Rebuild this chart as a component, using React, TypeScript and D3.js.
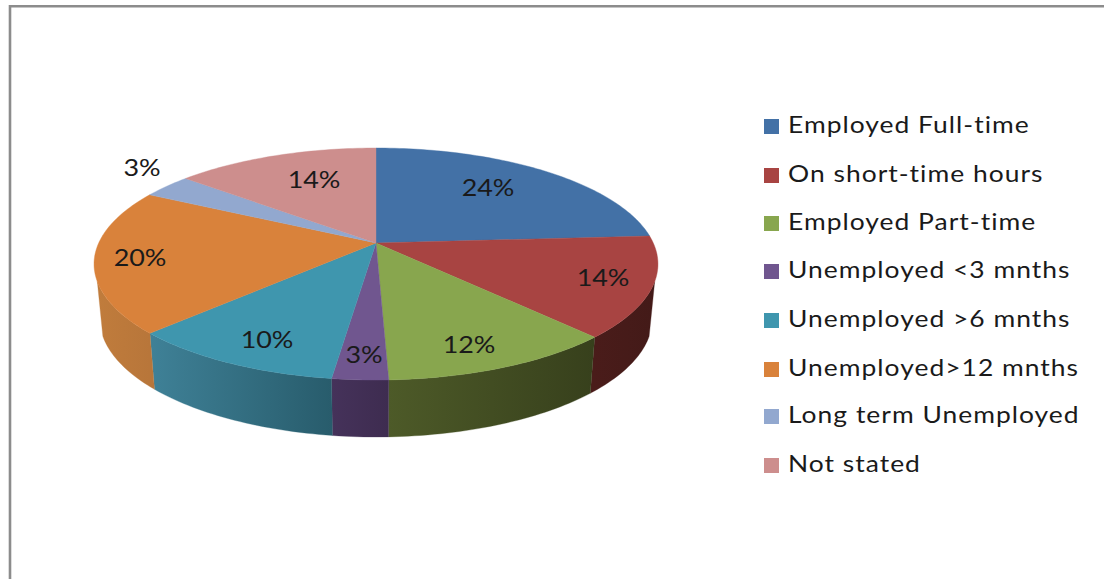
import React from "react";
import * as d3 from "d3";

const categories = [
  "Employed Full-time",
  "On short-time hours",
  "Employed Part-time",
  "Unemployed <3 mnths",
  "Unemployed >6 mnths",
  "Unemployed>12 mnths",
  "Long term Unemployed",
  "Not stated",
];
const shares = [24, 14, 11.4, 2.7, 10.5, 20.1, 3.4, 13.9];
const percentLabels = ["24%", "14%", "12%", "3%", "10%", "20%", "3%", "14%"];
const topColors = ["#4371a6", "#a84442", "#88a64e", "#70568f", "#3f96ae", "#d9823b", "#92a8cf", "#cd8e8d"];
const wallLeftColors = ["#2f4f75", "#4a1c1a", "#4d5a28", "#45325a", "#3f8197", "#c07c3c", "#5f6f90", "#8a5f5e"];
const wallRightColors = ["#2f4f75", "#431a18", "#37401c", "#3e2c50", "#285c6c", "#b8763a", "#5f6f90", "#8a5f5e"];
const labelX = [488, 603, 469, 364, 267, 140, 142, 314];
const labelY = [190, 280, 347, 357, 342, 260, 170, 182];
const legendY = [127, 176, 224, 272, 321, 370, 417, 466];

const W = 1104;
const H = 579;
const apexX = 376;
const apexY = 243;
const persp = -0.181;
const ampX = 277.3;
const ampY = 112.2;

// Perspective projection of the unit-circle angle onto the tilted pie's top face.
const px = (a: number) => apexX + (ampX * Math.sin(a)) / (1 - persp * Math.cos(a));
const py = (a: number) => apexY - (ampY * Math.cos(a)) / (1 - persp * Math.cos(a));
// The base rim sits a little inward and lower than the top rim.
const bx = (a: number) => apexX + (px(a) - apexX) * 0.98;
const by = (a: number) => py(a) + 54 + (3 * (py(a) - apexY)) / 137;

const angles = d3.pie<number>().sort(null).value((d) => d)(shares);

const rimPoints = (a0: number, a1: number) => {
  const n = Math.max(2, Math.ceil((a1 - a0) / 0.02));
  return d3.range(n + 1).map((i) => a0 + ((a1 - a0) * i) / n);
};
const lineGen = d3.line<[number, number]>();

const topPath = (a0: number, a1: number) => {
  const pts: [number, number][] = [[apexX, apexY], ...rimPoints(a0, a1).map((a) => [px(a), py(a)] as [number, number])];
  return lineGen(pts) + "Z";
};

const wallPath = (a0: number, a1: number) => {
  const rim = rimPoints(a0, a1);
  const upper = rim.map((a) => [px(a), py(a)] as [number, number]);
  const lower = rim.slice().reverse().map((a) => [bx(a), by(a)] as [number, number]);
  return lineGen([...upper, ...lower]) + "Z";
};

// Only the rim's front part shows a wall.
const frontStart = 1.9;
const frontEnd = 2 * Math.PI - 1.9;

export default function App() {
  return (
    <svg width={W} height={H} style={{ position: "absolute", left: 0, top: 0, background: "#fff" }}>
      <defs>
        {angles.map((s, i) => {
          const a0 = Math.max(s.startAngle, frontStart);
          const a1 = Math.min(s.endAngle, frontEnd);
          if (a1 <= a0) return null;
          return (
            <linearGradient key={i} id={`wall${i}`} gradientUnits="userSpaceOnUse" x1={Math.min(px(a0), px(a1))} x2={Math.max(px(a0), px(a1))} y1={0} y2={0}>
              <stop offset="0" stopColor={wallLeftColors[i]} />
              <stop offset="1" stopColor={wallRightColors[i]} />
            </linearGradient>
          );
        })}
      </defs>
      <path d="M10 579V6.2H1104" fill="none" stroke="#8c8c8c" strokeWidth={2.6} />
      {angles.map((s, i) => {
        const a0 = Math.max(s.startAngle, frontStart);
        const a1 = Math.min(s.endAngle, frontEnd);
        if (a1 <= a0) return null;
        return <path key={i} d={wallPath(a0, a1)} fill={`url(#wall${i})`} stroke={`url(#wall${i})`} strokeWidth={0.3} />;
      })}
      {angles.map((s, i) => (
        <path key={i} d={topPath(s.startAngle, s.endAngle)} fill={topColors[i]} stroke={topColors[i]} strokeWidth={0.4} />
      ))}
      <g fontFamily="Lato, 'Open Sans', sans-serif" fontSize={23} fill="#1a1a1a">
        {percentLabels.map((t, i) => (
          <text key={i} transform={`translate(${labelX[i]},${labelY[i]}) scale(1.17,1)`} textAnchor="middle" dominantBaseline="middle">{t}</text>
        ))}
        {categories.map((c, i) => (
          <g key={c}>
            <rect x={764} y={legendY[i] - 8} width={15} height={15} fill={topColors[i]} />
            <text transform={`translate(788,${legendY[i]}) scale(1.125,1)`} dominantBaseline="middle" fontSize={23.5} letterSpacing={0.9}>{c}</text>
          </g>
        ))}
      </g>
    </svg>
  );
}
